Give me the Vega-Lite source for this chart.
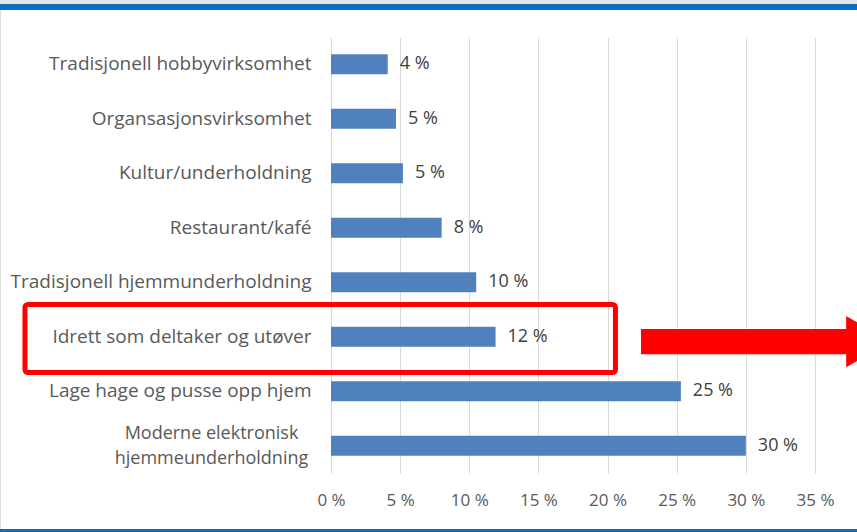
{
  "$schema": "https://vega.github.io/schema/vega-lite/v6.json",
  "width": 484,
  "height": 436,
  "autosize": {"type": "none"},
  "padding": {"left": 331, "top": 37, "right": 42, "bottom": 59},
  "background": "#ffffff",
  "config": {
    "view": {"stroke": null},
    "font": "Open Sans",
    "axis": {"labelFont": "Open Sans"}
  },
  "datasets": {
    "bars": [
      {"category": "Tradisjonell hobbyvirksomhet", "value": 4.1, "label": "4 %"},
      {"category": "Organsasjonsvirksomhet", "value": 4.7, "label": "5 %"},
      {"category": "Kultur/underholdning", "value": 5.2, "label": "5 %"},
      {"category": "Restaurant/kafé", "value": 8.0, "label": "8 %"},
      {"category": "Tradisjonell hjemmunderholdning", "value": 10.5, "label": "10 %"},
      {"category": "Idrett som deltaker og utøver", "value": 11.9, "label": "12 %"},
      {"category": "Lage hage og pusse opp hjem", "value": 25.3, "label": "25 %"},
      {"category": "Moderne elektronisk\nhjemmeunderholdning", "value": 30.0, "label": "30 %"}
    ],
    "box": [{"x": -22.13, "x2": 20.57, "y": 3.092, "y2": 1.844}],
    "shaft": [{"x": 22.42, "x2": 37.5, "y": 2.642, "y2": 2.178}],
    "head": [{"x": 38.86, "y": 2.409}],
    "topgray": [{"x": -24.5, "x2": 38.5, "y": 8.7, "y2": 8.606}],
    "topblue": [{"x": -24.5, "x2": 38.5, "y": 8.606, "y2": 8.495}],
    "bottomblue": [{"x": -24.5, "x2": 38.5, "y": -1.028, "y2": -1.11}],
    "leftedge": [{"x": -24.0, "x2": -23.86, "y": 8.495, "y2": -1.028}]
  },
  "layer": [
    {
      "data": {"name": "bars"},
      "layer": [
        {
          "mark": {"type": "bar", "color": "#4f81bd"},
          "encoding": {
            "y": {
              "field": "category",
              "type": "nominal",
              "sort": null,
              "scale": {"paddingInner": 0.63, "paddingOuter": 0.315},
              "axis": {
                "title": null,
                "domain": false,
                "ticks": false,
                "labelFontSize": {"condition": {"test": "indexof(datum.value, '\\n') >= 0", "value": 18}, "value": 19},
                "labelColor": "#595959",
                "labelLimit": 0,
                "labelLineHeight": 25,
                "labelExpr": "split(datum.label, '\\n')",
                "labelAlign": {"condition": {"test": "indexof(datum.value, '\\n') >= 0", "value": "center"}, "value": "right"},
                "labelPadding": {"condition": {"test": "indexof(datum.value, '\\n') >= 0", "value": 120}, "value": 20},
                "labelOffset": {"condition": {"test": "indexof(datum.value, '\\n') >= 0", "value": -12}, "value": 0}
              }
            },
            "x": {
              "field": "value",
              "type": "quantitative",
              "scale": {"domain": [0, 35], "nice": false},
              "axis": {
                "title": null,
                "values": [0, 5, 10, 15, 20, 25, 30, 35],
                "labelExpr": "datum.value + ' %'",
                "grid": true,
                "gridColor": "#d9d9d9",
                "domain": false,
                "ticks": false,
                "labelFontSize": 17,
                "labelColor": "#595959",
                "labelPadding": 19,
                "labelFlush": false
              }
            }
          }
        },
        {
          "mark": {"type": "text", "align": "left", "baseline": "middle", "dx": 12, "fontSize": 18, "color": "#404040"},
          "encoding": {
            "y": {"field": "category", "type": "nominal", "sort": null},
            "x": {"field": "value", "type": "quantitative", "scale": {"domain": [0, 35], "nice": false}, "axis": {"title": null}},
            "text": {"field": "label"}
          }
        }
      ]
    },
    {
      "layer": [
        {
          "data": {"name": "topgray"},
          "mark": {"type": "rect", "color": "#e6e6e6"},
          "encoding": {
            "x": {"field": "x", "type": "quantitative", "scale": {"domain": [0, 35], "nice": false}, "axis": {"title": null}},
            "x2": {"field": "x2"},
            "y": {"field": "y", "type": "quantitative", "scale": {"domain": [0, 8], "nice": false}, "axis": null},
            "y2": {"field": "y2"}
          }
        },
        {
          "data": {"name": "topblue"},
          "mark": {"type": "rect", "color": "#0a6ebd"},
          "encoding": {
            "x": {"field": "x", "type": "quantitative", "scale": {"domain": [0, 35], "nice": false}, "axis": {"title": null}},
            "x2": {"field": "x2"},
            "y": {"field": "y", "type": "quantitative", "scale": {"domain": [0, 8], "nice": false}, "axis": null},
            "y2": {"field": "y2"}
          }
        },
        {
          "data": {"name": "bottomblue"},
          "mark": {"type": "rect", "color": "#0a6ebd"},
          "encoding": {
            "x": {"field": "x", "type": "quantitative", "scale": {"domain": [0, 35], "nice": false}, "axis": {"title": null}},
            "x2": {"field": "x2"},
            "y": {"field": "y", "type": "quantitative", "scale": {"domain": [0, 8], "nice": false}, "axis": null},
            "y2": {"field": "y2"}
          }
        },
        {
          "data": {"name": "leftedge"},
          "mark": {"type": "rect", "color": "#dcdcdc"},
          "encoding": {
            "x": {"field": "x", "type": "quantitative", "scale": {"domain": [0, 35], "nice": false}, "axis": {"title": null}},
            "x2": {"field": "x2"},
            "y": {"field": "y", "type": "quantitative", "scale": {"domain": [0, 8], "nice": false}, "axis": null},
            "y2": {"field": "y2"}
          }
        },
        {
          "data": {"name": "box"},
          "mark": {"type": "rect", "filled": false, "stroke": "#ff0000", "strokeWidth": 5, "cornerRadius": 3},
          "encoding": {
            "x": {"field": "x", "type": "quantitative", "scale": {"domain": [0, 35], "nice": false}, "axis": {"title": null}},
            "x2": {"field": "x2"},
            "y": {"field": "y", "type": "quantitative", "scale": {"domain": [0, 8], "nice": false}, "axis": null},
            "y2": {"field": "y2"}
          }
        },
        {
          "data": {"name": "shaft"},
          "mark": {"type": "rect", "color": "#ff0000"},
          "encoding": {
            "x": {"field": "x", "type": "quantitative", "scale": {"domain": [0, 35], "nice": false}, "axis": {"title": null}},
            "x2": {"field": "x2"},
            "y": {"field": "y", "type": "quantitative", "scale": {"domain": [0, 8], "nice": false}, "axis": null},
            "y2": {"field": "y2"}
          }
        },
        {
          "data": {"name": "head"},
          "mark": {"type": "point", "shape": "triangle-right", "filled": true, "color": "#ff0000", "opacity": 1, "size": 2632, "strokeWidth": 0},
          "encoding": {
            "x": {"field": "x", "type": "quantitative", "scale": {"domain": [0, 35], "nice": false}, "axis": {"title": null}},
            "y": {"field": "y", "type": "quantitative", "scale": {"domain": [0, 8], "nice": false}, "axis": null}
          }
        }
      ]
    }
  ],
  "resolve": {"scale": {"y": "independent"}}
}
